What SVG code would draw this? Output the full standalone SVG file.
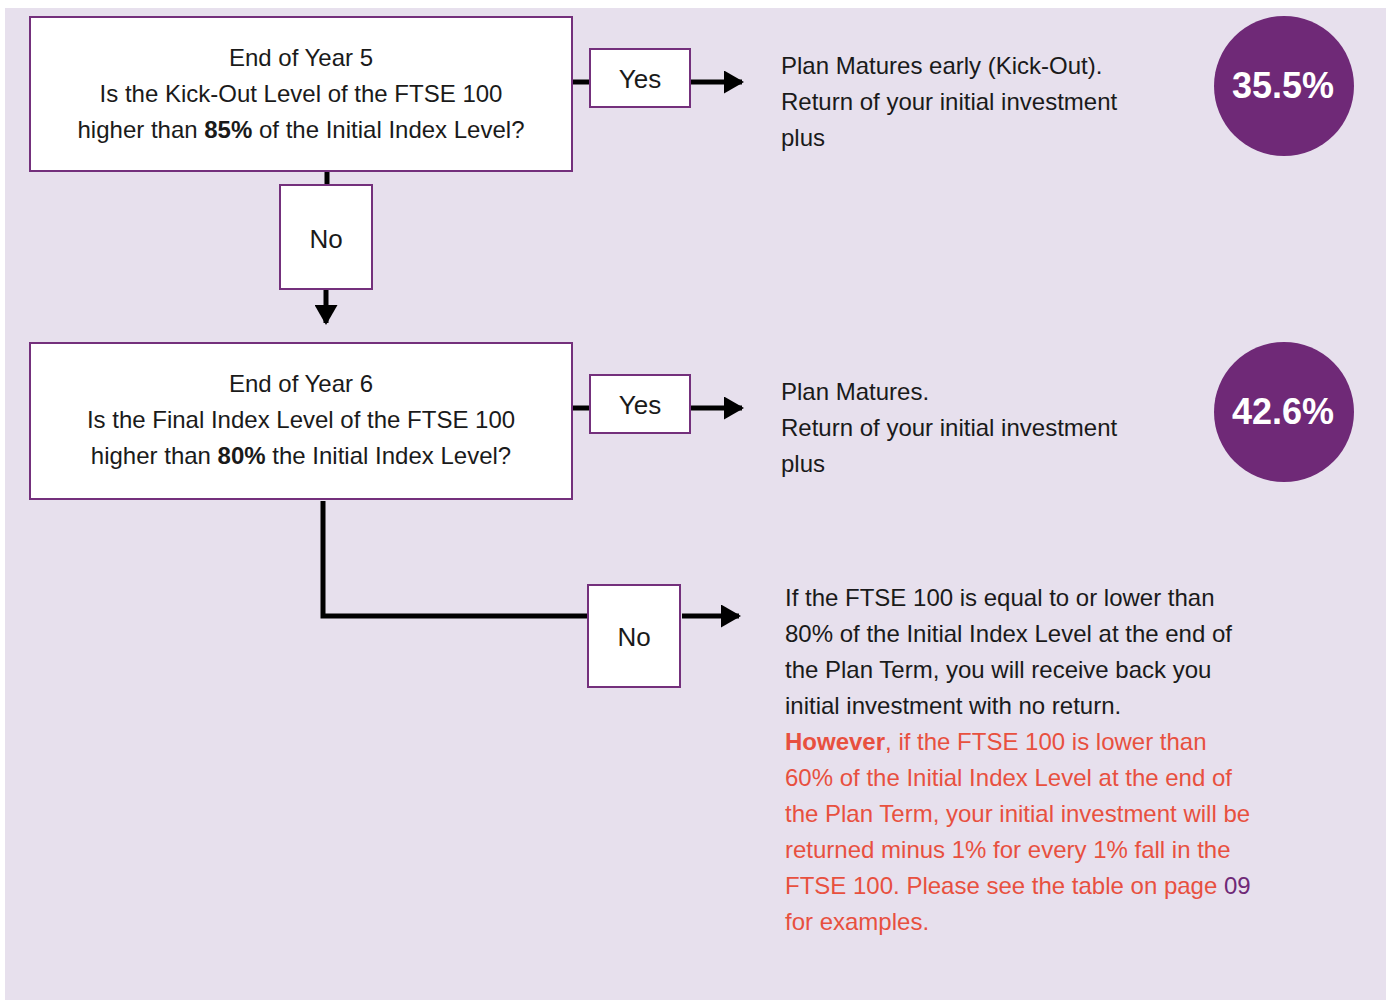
<svg xmlns="http://www.w3.org/2000/svg" width="1386" height="1000" viewBox="0 0 1386 1000">
<defs>
<style>
.box{fill:#fff;stroke:#74307c;stroke-width:2}
.t{font-family:"Liberation Sans",Arial,sans-serif;font-size:24px;fill:#1a1a1a}
.lb{font-size:26px}
.c{text-anchor:middle}
.r{fill:#e8503f}
.line{stroke:#000;stroke-width:5;fill:none}
.pct{font-family:"Liberation Sans",Arial,sans-serif;font-size:36px;font-weight:bold;fill:#fff;text-anchor:middle}
</style>
<marker id="ah" markerWidth="4" markerHeight="4.6" refX="3.6" refY="2.3" orient="auto" markerUnits="strokeWidth" viewBox="0 0 4 4.6">
<path d="M0,0 L4,2.3 L0,4.6 Z" fill="#000"/>
</marker>
</defs>
<rect x="5" y="8" width="1381" height="992" fill="#e7e0ed"/>
<g id="connectors">
<line class="line" x1="573" y1="82" x2="590" y2="82"/>
<line class="line" x1="691" y1="82" x2="742" y2="82" marker-end="url(#ah)"/>
<line class="line" x1="327" y1="172" x2="327" y2="185"/>
<line class="line" x1="326" y1="290" x2="326" y2="323" marker-end="url(#ah)"/>
<line class="line" x1="573" y1="408" x2="590" y2="408"/>
<line class="line" x1="691" y1="408" x2="742" y2="408" marker-end="url(#ah)"/>
<polyline class="line" points="323,501 323,616 588,616"/>
<line class="line" x1="682" y1="616" x2="739" y2="616" marker-end="url(#ah)"/>
</g>
<g id="q1">
<rect class="box" x="30" y="17" width="542" height="154"/>
<text class="t c" x="301" y="66">End of Year 5</text>
<text class="t c" x="301" y="102">Is the Kick-Out Level of the FTSE 100</text>
<text class="t c" x="301" y="138">higher than <tspan font-weight="bold">85%</tspan> of the Initial Index Level?</text>
</g>
<g id="yes1">
<rect class="box" x="590" y="49" width="100" height="58"/>
<text class="t lb c" x="640" y="88">Yes</text>
</g>
<g id="no1">
<rect class="box" x="280" y="185" width="92" height="104"/>
<text class="t lb c" x="326" y="248">No</text>
</g>
<g id="res1">
<text class="t" x="781" y="74">Plan Matures early (Kick-Out).</text>
<text class="t" x="781" y="110">Return of your initial investment</text>
<text class="t" x="781" y="146">plus</text>
</g>
<g id="pct1">
<circle cx="1284" cy="86" r="70" fill="#6f2977"/>
<text class="pct" x="1283" y="98">35.5%</text>
</g>
<g id="q2">
<rect class="box" x="30" y="343" width="542" height="156"/>
<text class="t c" x="301" y="392">End of Year 6</text>
<text class="t c" x="301" y="428">Is the Final Index Level of the FTSE 100</text>
<text class="t c" x="301" y="464">higher than <tspan font-weight="bold">80%</tspan> the Initial Index Level?</text>
</g>
<g id="yes2">
<rect class="box" x="590" y="375" width="100" height="58"/>
<text class="t lb c" x="640" y="414">Yes</text>
</g>
<g id="res2">
<text class="t" x="781" y="400">Plan Matures.</text>
<text class="t" x="781" y="436">Return of your initial investment</text>
<text class="t" x="781" y="472">plus</text>
</g>
<g id="pct2">
<circle cx="1284" cy="412" r="70" fill="#6f2977"/>
<text class="pct" x="1283" y="424">42.6%</text>
</g>
<g id="no2">
<rect class="box" x="588" y="585" width="92" height="102"/>
<text class="t lb c" x="634" y="646">No</text>
</g>
<g id="res3">
<text class="t" x="785" y="606">If the FTSE 100 is equal to or lower than</text>
<text class="t" x="785" y="642">80% of the Initial Index Level at the end of</text>
<text class="t" x="785" y="678">the Plan Term, you will receive back you</text>
<text class="t" x="785" y="714">initial investment with no return.</text>
<text class="t r" x="785" y="750"><tspan font-weight="bold">However</tspan>, if the FTSE 100 is lower than</text>
<text class="t r" x="785" y="786">60% of the Initial Index Level at the end of</text>
<text class="t r" x="785" y="822">the Plan Term, your initial investment will be</text>
<text class="t r" x="785" y="858">returned minus 1% for every 1% fall in the</text>
<text class="t r" x="785" y="894">FTSE 100. Please see the table on page <tspan fill="#6f2977">09</tspan></text>
<text class="t r" x="785" y="930">for examples.</text>
</g>
</svg>
